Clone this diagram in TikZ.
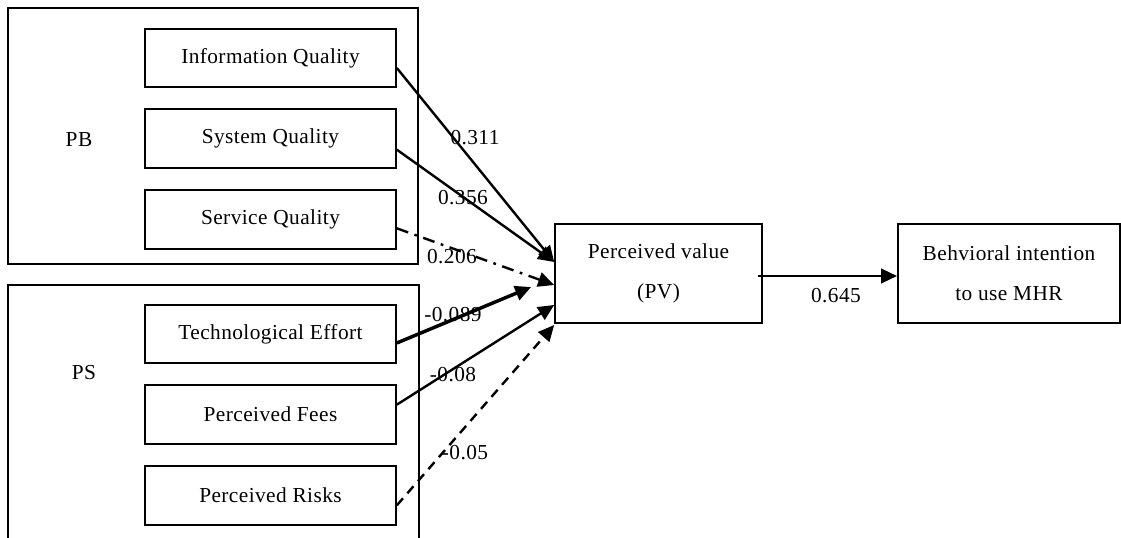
\documentclass[tikz,border=0pt]{standalone}
\usepackage{fontspec}
\setmainfont{Liberation Serif}[LetterSpace=2]
\usetikzlibrary{positioning,calc,arrows.meta}

\begin{document}
\begin{tikzpicture}[x=0.75pt, y=-0.75pt,
		font=\fontsize{16pt}{19pt}\selectfont,
		box/.style={draw, line width=1.5pt, minimum width=188pt, minimum height=44pt, inner sep=0pt},
		group/.style={draw, line width=1.5pt, minimum width=308pt, inner sep=0pt},
		link/.style={line width=1.8pt, -{Triangle[length=12pt, width=11pt]}},
		node distance=15pt]
		% Page
		\clip (0,0) rectangle (1121,538) ;
		% Groups
		\node[group, minimum height=192pt] (PB) at (213,136) {} ;
		\node[group, minimum height=225pt] (PS) at (213.5,435) {} ;
		\node (PBname) at (79,140) {PB} ;
		\node (PSname) at (84,373) {PS} ;
		% Benefits
		\node[box] (InfoQ) at (270.5,58) {Information Quality} ;
		\node[box, below=of InfoQ] (SysQ) {System Quality} ;
		\node[box, below=of SysQ] (ServQ) {Service Quality} ;
		% Sacrifices
		\node[box] (TechEff) at (270.5,334) {Technological Effort} ;
		\node[box, below=of TechEff] (Fees) {Perceived Fees} ;
		\node[box, below=of Fees] (Risks) {Perceived Risks} ;
		% Right
		\node[box, minimum width=155pt, minimum height=74pt, align=center] (PV) at (658.5,273.5) {Perceived value\\[11pt](PV)} ;
		\node[box, minimum width=166.5pt, minimum height=74pt, align=center] (BI) at (1009,273.5) {Behvioral intention\\[11pt]to use MHR} ;
		% Paths
		\draw[link] ($(InfoQ.east)+(0,10)$) -- ($(PV.west)+(0,-11.5)$) ;
		\draw[link] ($(SysQ.east)+(0,11)$) -- ($(PV.west)+(0,-11.5)$) ;
		\draw[link, dash pattern=on 9pt off 5pt on 2pt off 5pt] ($(ServQ.east)+(0,9)$) -- ($(PV.west)+(0,11.5)$) ;
		\draw[link, line width=2.6pt] ($(TechEff.east)+(0,9)$) -- ($(PV.west)+(-23,13.5)$) ;
		\draw[link] ($(Fees.east)+(0,-10)$) -- ($(PV.west)+(0,31.5)$) ;
		\draw[link, dash pattern=on 7pt off 5pt] ($(Risks.east)+(0,10)$) -- ($(PV.west)+(0,51.5)$) ;
		\draw[link] ($(PV.east)+(-5,2.5)$) -- ($(BI.west)+(0,2.5)$) ;
		% Coefficients
		\node (cInfo) at (475,138) {0.311} ;
		\node (cSys) at (463,198) {0.356} ;
		\node (cServ) at (452,257) {0.206} ;
		\node (cTech) at (453,315) {-0.089} ;
		\node (cFees) at (453,375) {-0.08} ;
		\node (cRisks) at (465,453) {-0.05} ;
		\node (cPV) at (836,296) {0.645} ;
	\end{tikzpicture}
\end{document}
